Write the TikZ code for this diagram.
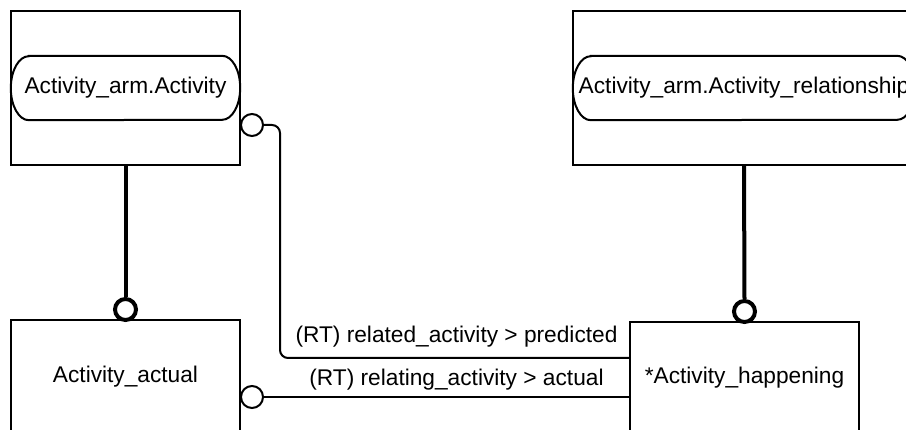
\documentclass[tikz,border=0pt]{standalone}
\usepackage{fontspec}
\setmainfont{Liberation Sans}
\begin{document}
\begin{tikzpicture}
  [x=1pt,y=-1pt,
   font=\fontsize{22.7}{27}\selectfont,
   entity/.style={draw,line width=2pt,inner sep=0pt},
   supname/.style={minimum height=64pt,inner sep=0pt},
   ring/.style={circle,draw,fill=white,line width=2pt,minimum size=22pt,inner sep=0pt},
   subring/.style={circle,draw,fill=white,line width=4pt,minimum size=21pt,inner sep=0pt},
   rel/.style={line width=2pt,rounded corners=8pt},
   rolename/.style={anchor=base,inner sep=0pt}]
  \clip (0,0) rectangle (906,430);

  \node[entity,minimum width=229pt,minimum height=154pt] (act) at (125.5,88) {};
  \node[supname,minimum width=229pt] (actname) at (125.5,88) {Activity\_arm.Activity};
  \node[entity,minimum width=342pt,minimum height=154pt] (rel) at (744,88) {};
  \node[supname,minimum width=342pt] (relname) at (744,88) {Activity\_arm.Activity\_relationship};
  \foreach \n in {actname,relname}
    \draw[line width=2pt] ([xshift=18pt]\n.north west) -- ([xshift=-18pt]\n.north east)
      arc[start angle=90,end angle=-90,x radius=18pt,y radius=32pt]
      -- ([xshift=18pt]\n.south west)
      arc[start angle=270,end angle=90,x radius=18pt,y radius=32pt] -- cycle;

  \node[entity,minimum width=229pt,minimum height=114pt] (actual) at (125.5,377) {Activity\_actual};
  \node[entity,minimum width=229pt,minimum height=112pt] (hap) at (744.5,378) {*Activity\_happening};

  \node[subring] (r1) at (125.5,309.5) {};
  \node[subring] (r2) at (744.5,311.5) {};
  \draw[line width=4pt] (act.south) -- (r1.north);
  \draw[line width=4pt] (rel.south) -- (r2.north);

  \node[ring] (c1) at (252,125) {};
  \node[ring] (c2) at (252,397) {};
  \coordinate (pend) at ([yshift=20pt]hap.west);
  \draw[rel] (c1.east) -| (280,358) -- (pend);
  \draw[rel] (c2.east) -- (c2.east -| hap.west);

  \node[rolename] (pred) at (456.5,343) {(RT) related\_activity > predicted};
  \node[rolename] (actl) at (456.5,386) {(RT) relating\_activity > actual};
\end{tikzpicture}
\end{document}
